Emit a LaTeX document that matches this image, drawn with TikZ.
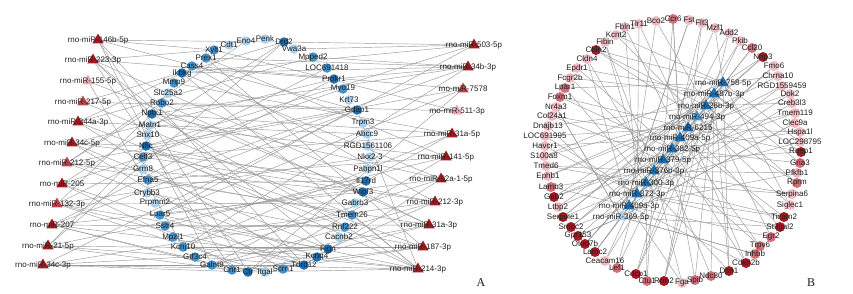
\documentclass[tikz,border=0pt]{standalone}
\usepackage{fontspec}
\setmainfont{Liberation Sans}
\newfontfamily\serifA{Liberation Serif}
\usetikzlibrary{shapes.geometric}
\pgfdeclarelayer{background}
\pgfdeclarelayer{edges}
\pgfsetlayers{background,edges,main}
\definecolor{bD}{RGB}{28,110,178}
\definecolor{bM}{RGB}{66,146,206}
\definecolor{bL}{RGB}{170,208,235}
\definecolor{rD}{RGB}{158,28,32}
\definecolor{rM}{RGB}{190,70,78}
\definecolor{rL}{RGB}{232,170,178}
\definecolor{pD}{RGB}{165,25,35}
\definecolor{pM}{RGB}{210,112,122}
\definecolor{pL}{RGB}{238,188,194}
\definecolor{edgec}{RGB}{155,155,155}
\definecolor{txt}{RGB}{30,30,30}
\begin{document}
\begin{tikzpicture}[x=1pt,y=-1pt,
  gene/.style={circle,inner sep=0pt,minimum size=9.5pt},
  geneb/.style={circle,inner sep=0pt,minimum size=10pt},
  mir/.style={regular polygon,regular polygon sides=3,inner sep=0pt,minimum size=13pt},
  mirb/.style={regular polygon,regular polygon sides=3,inner sep=0pt,minimum size=13.5pt},
  lab/.style={font=\fontsize{8}{9}\selectfont,text=txt,inner sep=0pt},
  edge/.style={draw=edgec,line width=0.45pt},
  panel/.style={font=\serifA\fontsize{12}{12}\selectfont,text=txt,inner sep=0pt}]
\begin{pgfonlayer}{background}
\fill[white] (0,0) rectangle (853,293);
\end{pgfonlayer}
\useasboundingbox (0,0) rectangle (853,293);
% ---------- Panel A: genes ----------
\foreach \n/\x/\y/\c/\t in {
 c1/214/50/bM/Xylt1, c2/229/45/bL/Cdt1, c3/246/41/bL/Eno4, c4/265/39/bL/Penk,
 c5/284/42/bD/Drd2, c6/294/49/bL/Vwa3a, c7/313/57/bM/Mpped2, c8/327/68/bM/LOC691418,
 c9/334/79/bD/Prokr1, c10/343/89/bM/Myo19, c11/349/100/bL/Krt73, c12/357/110/bD/Gdap1,
 c13/363/123/bL/Trpm3, c14/367/134/bL/Abcc9, c15/368/146/bL/RGD1561106, c16/370/157/bL/Nkx2-3,
 c17/368/169/bL/Pabpn1l, c18/366/181/bD/Il17rd, c19/363/192/bD/Wipf3, c20/355/203/bL/Gabrb3,
 c21/352/215/bM/Tmem26, c22/345/227/bM/Rnf222, c23/339/237/bL/Cacnb2, c24/328/249/bD/Fign,
 c25/317/257/bD/Kcnq4, c26/304/265/bD/Tdrd12, c27/283/269/bM/Scrn1, c28/265/272/bL/Itgal,
 c29/248/272/bD/Ctr, c30/232/270/bM/Cnr1, c31/212/265/bM/Galnt9, c32/195/257/bM/Gtf3c4,
 c33/183/247/bM/Kcnj10, c34/173/237/bM/Mpzl1, c35/165/226/bM/Sstr4, c36/160/215/bM/Lpar5,
 c37/155/203/bL/Prpmm2, c38/147/193/bL/Crybb3, c39/148/180/bM/Efna5, c40/143/169/bL/Grm8,
 c41/143/157/bM/Celf3, c42/146/146/bD/Nfic, c43/148/135/bL/Snx10, c44/150/125/bL/Matn1,
 c45/152/114/bD/Nptx1, c46/162/103/bM/Robo2, c47/168/93/bL/Slc25a2, c48/174/83/bM/Mmp9,
 c49/182/73/bD/Ikbkg, c50/192/66/bM/Cass4, c51/206/58/bM/Prex1}
 \node[gene,fill=\c,label={[lab]center:\t}] (\n) at (\x,\y) {};
% ---------- Panel A: miRNAs ----------
\foreach \n/\x/\y/\c/\t in {
 aL1/98/40/rD/rno-miR-146b-5p, aL2/93/60/rD/rno-miR-223-3p, aL3/88/81/rL/rno-miR-155-5p,
 aL4/83/102/rM/rno-miR-217-5p, aL5/78/122/rD/rno-miR-344a-3p, aL6/72/143/rD/rno-miR-34c-5p,
 aL7/67/163/rM/rno-miR-212-5p, aL8/62/184/rD/rno-miR-205, aL9/57/204/rM/rno-miR-132-3p,
 aL10/52/225/rD/rno-miR-207, aL11/48/246/rD/rno-miR-21-5p, aL12/43/265/rD/rno-miR-34c-3p,
 aR1/474/45/rD/rno-miR-503-5p, aR2/468/67/rD/rno-miR-34b-3p, aR3/463/89/rM/rno-miR-7578,
 aR4/457/111/rL/rno-miR-511-3p, aR5/452/134/rD/rno-miR-31a-5p, aR6/446/157/rD/rno-miR-141-5p,
 aR7/441/179/rD/rno-miR-92a-1-5p, aR8/435/202/rD/rno-miR-212-3p, aR9/429/225/rD/rno-miR-31a-3p,
 aR10/423/247/rD/rno-miR-187-3p, aR11/418/269/rD/rno-miR-214-3p}
 \node[mir,fill=\c,label={[lab]center:\t}] (\n) at (\x,\y) {};
% ---------- Panel B: ring genes ----------
\foreach \n/\x/\y/\c/\t in {
 r1/625/27/pL/Fbln1, r2/639/24/pL/Tlr11, r3/656/21/pL/Bco2, r4/673/19/pM/Ccr6,
 r5/689/20/pL/Fst, r6/702/23/pL/Flt3, r7/715/28/pL/Mzf1, r8/729/33/pL/Add2,
 r9/740/41/pL/Pkib, r10/752/48/pM/Ccl20, r11/763/57/pD/Nrip3, r12/774/66/pL/Fmo6,
 r13/778/76/pL/Chrna10, r14/782/86/pL/RGD1559459, r15/790/94/pL/Dok2, r16/792/103/pL/Creb3l3,
 r17/795/113/pL/Tmem119, r18/795/123/pL/Clec9a, r19/800/132/pL/Hspa1l, r20/800/142/pL/LOC298795,
 r21/801/152/pD/Reep1, r22/800/163/pM/Gria3, r23/797/173/pL/Pfkfb1, r24/797/183/pM/Rprm,
 r25/792/194/pL/Serpina6, r26/790/205/pL/Siglec1, r27/784/217/pD/Ticam2, r28/780/227/pD/St3gal2,
 r29/771/237/pM/Egr2, r30/760/246/pM/Trpv6, r31/755/254/pM/Inhbb, r32/746/263/pD/Cdkn2b,
 r33/729/271/pD/Dsn1, r34/711/276/pM/Ndc80, r35/695/280/pM/Spib, r36/682/283/pL/Fga,
 r37/664/281/pD/Rrm2, r38/647/281/pM/Ctu1, r39/636/274/pD/Cdcp1, r40/617/268/pM/Lef1,
 r41/605/261/pL/Ceacam16, r42/595/252/pD/Lamc2, r43/585/244/pD/Otud7b, r44/578/236/pD/Gpr153,
 r45/571/227/pD/Smoc2, r46/563/217/pD/Serpine1, r47/558/207/pL/Ltbp2, r48/554/197/pD/Gab2,
 r49/551/187/pM/Lamb3, r50/548/176/pL/Ephb1, r51/546/166/pL/Tmed6, r52/544/156/pL/S100a8,
 r53/545/146/pL/Havcr1, r54/545/136/pL/LOC691995, r55/548/126/pL/Dnajb13, r56/552/116/pL/Col24a1,
 r57/556/107/pL/Nr4a3, r58/560/97/pM/Foxm1, r59/565/88/pM/Lpar1, r60/570/78/pL/Fcgr2b,
 r61/577/68/pL/Epdr1, r62/587/59/pL/Cldn4, r63/596/50/pD/Cbln2, r64/605/42/pL/Fibin,
 r65/616/35/pL/Kcnt2}
 \node[geneb,fill=\c,label={[lab]center:\t}] (\n) at (\x,\y) {};
% ---------- Panel B: miRNAs ----------
\foreach \n/\x/\y/\c/\t in {
 b1/723/83/bD/rno-miR-758-5p, b2/714/94/bD/rno-miR-487b-3p, b3/706/106/bD/rno-miR-26b-3p,
 b4/697/117/bM/rno-miR-494-3p, b5/688/128/bD/rno-miR-6215, b6/680/138/bD/rno-miR-409a-5p,
 b7/672/149/bD/rno-miR-382-5p, b8/663/160/bD/rno-miR-379-5p, b9/654/171/bD/rno-miR-376b-3p,
 b10/646/183/bD/rno-miR-300-3p, b11/637/194/bD/rno-miR-872-3p, b12/629/206/bD/rno-miR-409a-3p,
 b13/621/217/bL/rno-miR-369-5p}
 \node[mirb,fill=\c,label={[lab]center:\t}] (\n) at (\x,\y) {};
% panel letters
\node[panel] (labA) at (481,283) {A};
\node[panel] (labB) at (811,283) {B};
% ---------- edges ----------
\begin{pgfonlayer}{edges}
\foreach \s/\t in {
 aL1/c12, aL1/c26, aL1/c29, aL1/c31, aL1/c5, aL1/c1,
 aL2/c1, aL2/c18, aL2/c24, aL2/c45, aL2/c9, aL2/c30,
 aL3/c19, aL3/c33,
 aL4/c5, aL4/c21, aL4/c12,
 aL5/c7, aL5/c14, aL5/c22, aL5/c26, aL5/c49,
 aL6/c9, aL6/c18, aL6/c24, aL6/c27, aL6/c42,
 aL7/c3, aL7/c12, aL7/c19, aL7/c21, aL7/c25, aL7/c46,
 aL8/c5, aL8/c10, aL8/c18, aL8/c26, aL8/c29,
 aL9/c8, aL9/c16, aL9/c20, aL9/c24, aL9/c26, aL9/c28, aL9/c45,
 aL10/c9, aL10/c12, aL10/c19, aL10/c22, aL10/c25, aL10/c29, aL10/c31,
 aL11/c5, aL11/c18, aL11/c24, aL11/c26, aL11/c30, aL11/c42,
 aL12/c12, aL12/c21, aL12/c26, aL12/c27, aL12/c29, aL12/c24,
 aR1/c5, aR1/c6, aR1/c49, aR1/c36, aR1/c42,
 aR2/c45, aR2/c49, aR2/c51, aR2/c39, aR2/c33, aR2/c7, aR2/c9,
 aR3/c50, aR3/c42, aR3/c36, aR3/c29,
 aR4/c46, aR4/c1,
 aR5/c48, aR5/c41, aR5/c33, aR5/c45, aR5/c31,
 aR6/c51, aR6/c44, aR6/c39, aR6/c35, aR6/c29,
 aR7/c49, aR7/c45, aR7/c36, aR7/c32, aR7/c26,
 aR8/c50, aR8/c42, aR8/c41, aR8/c34, aR8/c31, aR8/c24,
 aR9/c46, aR9/c39, aR9/c35, aR9/c31, aR9/c29, aR9/c19,
 aR10/c51, aR10/c42, aR10/c38, aR10/c33, aR10/c30, aR10/c26,
 aR11/c49, aR11/c45, aR11/c42, aR11/c36, aR11/c33, aR11/c31, aR11/c29, aR11/c21, aR11/c25, aR11/c12}
 \draw[edge] (\s) -- (\t);
\foreach \i in {1,...,65} {
  \pgfmathtruncatemacro\ta{mod(\i*5,13)+1}
  \pgfmathtruncatemacro\tb{mod(\i*7+3,13)+1}
  \draw[edge] (r\i) -- (b\ta);
  \draw[edge] (r\i) -- (b\tb);
}
\foreach \i in {4,11,21,27,28,32,33,37,39,42,43,44,45,46,48,63} {
  \pgfmathtruncatemacro\tc{mod(\i*3+6,13)+1}
  \draw[edge] (r\i) -- (b\tc);
}
\end{pgfonlayer}
\end{tikzpicture}
\end{document}
